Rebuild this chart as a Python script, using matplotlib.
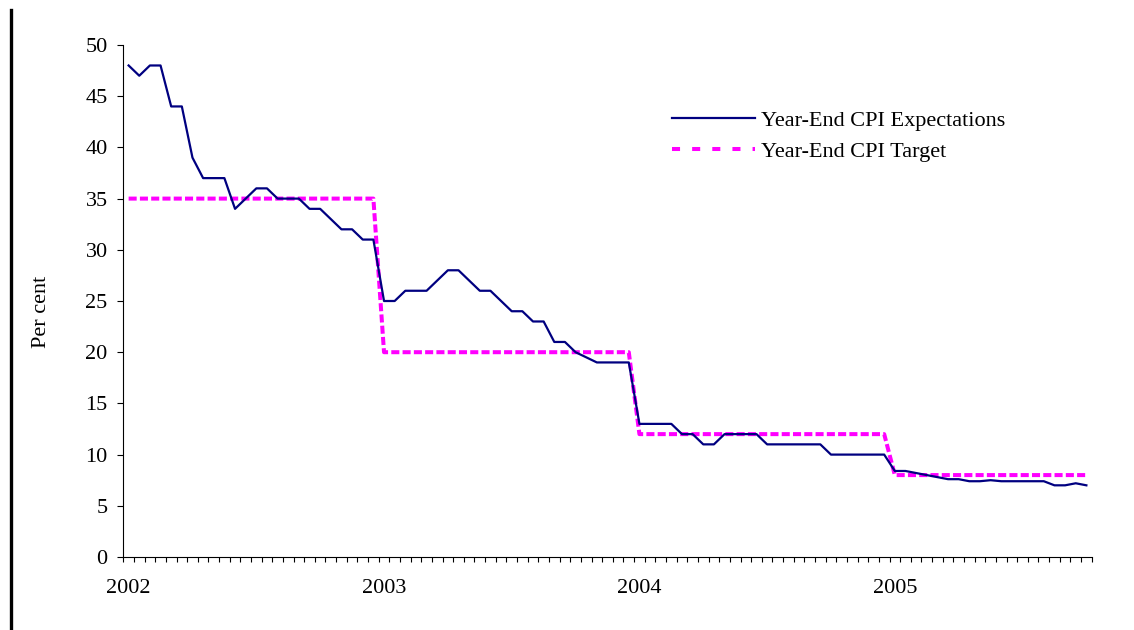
import numpy as np
import matplotlib
matplotlib.use('Agg')
import matplotlib.pyplot as plt
from matplotlib.lines import Line2D

plt.rcParams['font.family'] = ['Liberation Serif', 'DejaVu Serif']

# semi-monthly observations, Jan 2002 - Oct 2005
expectations = [48, 47, 48, 48, 44, 44, 39, 37, 37, 37,
                34, 35, 36, 36, 35, 35, 35, 34, 34, 33,
                32, 32, 31, 31, 25, 25, 26, 26, 26, 27,
                28, 28, 27, 26, 26, 25, 24, 24, 23, 23,
                21, 21, 20, 19.5, 19, 19, 19, 19, 13, 13,
                13, 13, 12, 12, 11, 11, 12, 12, 12, 12,
                11, 11, 11, 11, 11, 11, 10, 10, 10, 10,
                10, 10, 8.4, 8.4, 8.2, 8.0, 7.8, 7.6, 7.6, 7.4,
                7.4, 7.5, 7.4, 7.4, 7.4, 7.4, 7.4, 7.0, 7.0, 7.2,
                7.0]
target = [35] * 24 + [20] * 24 + [12] * 24 + [8] * 19
year_labels = ['2002', '2003', '2004', '2005']
year_pos = [0, 24, 48, 72]

x = np.arange(len(expectations))
fs = 16

fig = plt.figure(figsize=(11.34, 6.3), dpi=100)
ax = fig.add_axes([123.3 / 1134, 73 / 630, (1091.7 - 123.3) / 1134, 512 / 630])

ax.plot(x, expectations, color='#000080', lw=1.6, solid_joinstyle='round',
        label='Year-End CPI Expectations', zorder=3)
ax.plot(x, target, color='#FF00FF', lw=2.9, dashes=(2, 0.8),
        label='Year-End CPI Target', zorder=2)

ax.set_xlim(-0.5, len(x) - 0.5)
ax.set_ylim(0, 50)
ax.set_yticks(np.arange(0, 51, 5))
ax.set_xticks(year_pos)
ax.set_xticklabels(year_labels)
ax.set_xticks(np.arange(-0.5, len(x), 1), minor=True)
ax.tick_params(axis='x', which='major', length=0, pad=15.5, labelsize=fs)
ax.tick_params(axis='x', which='minor', length=3.6, width=0.8, direction='out')
ax.tick_params(axis='y', length=4.3, width=0.8, pad=7, labelsize=fs)
for s in ['top', 'right']:
    ax.spines[s].set_visible(False)
for s in ['left', 'bottom']:
    ax.spines[s].set_linewidth(0.8)

fig.text(41 / 1134, 1 - 312 / 630, 'Per cent', rotation=90, ha='center',
         va='center', fontsize=fs)

handles = [Line2D([], [], color='#000080', lw=1.6),
           Line2D([], [], color='#FF00FF', lw=2.9, dashes=(2, 3))]
ax.legend(handles, ['Year-End CPI Expectations', 'Year-End CPI Target'],
          loc='upper left', bbox_to_anchor=(672 / 1134, 1 - 110 / 630),
          bbox_transform=fig.transFigure, frameon=False, fontsize=fs,
          handlelength=3.75, handletextpad=0.25, borderpad=0,
          borderaxespad=0, labelspacing=0.5)

# thick border line on the left edge
fig.add_artist(Line2D([11 / 1134, 11 / 1134], [0, 1 - 10 / 630],
                      transform=fig.transFigure, color='black', lw=2.4))

fig.savefig('out.png', dpi=100)
